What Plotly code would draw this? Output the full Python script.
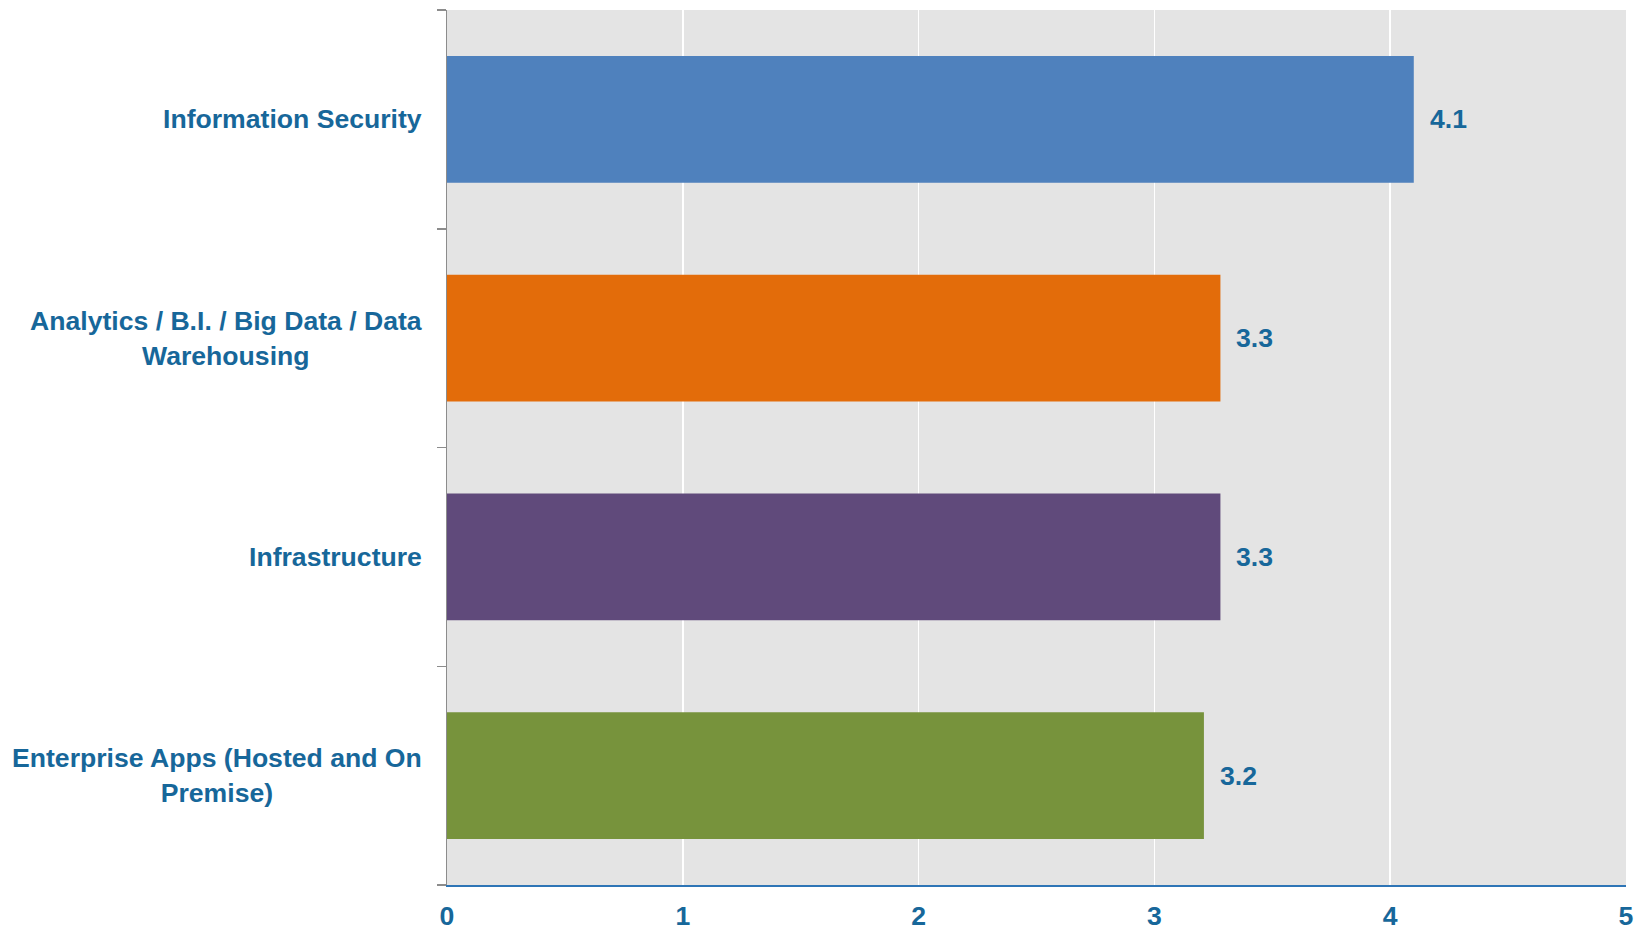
import plotly.graph_objects as go

categories = [
    "Information Security",
    "Analytics / B.I. / Big Data / Data<br>Warehousing",
    "Infrastructure",
    "Enterprise Apps (Hosted and On<br>Premise)",
]
values = [4.1, 3.28, 3.28, 3.21]
value_labels = ["4.1", "3.3", "3.3", "3.2"]
bar_colors = ["#4F81BD", "#E36C0A", "#604A7B", "#77933C"]
x_ticks = [0, 1, 2, 3, 4, 5]

text_color = "#17679A"
font_family = "Liberation Sans, Arial, sans-serif"
fsize = 26.6

fig = go.Figure()
fig.add_trace(go.Bar(
    x=values,
    y=list(range(len(categories))),
    orientation="h",
    marker=dict(color=bar_colors, line=dict(width=0)),
    width=0.58,
    hoverinfo="skip",
))

annotations = []
for i, (cat, v, lab) in enumerate(zip(categories, values, value_labels)):
    annotations.append(dict(
        x=0, xref="paper", y=i, yref="y",
        text="<b>" + cat + "</b>", showarrow=False,
        xanchor="right", yanchor="middle", align="center",
        xshift=-23,
        font=dict(family=font_family, size=fsize, color=text_color),
    ))
    annotations.append(dict(
        x=v, xref="x", y=i, yref="y",
        text="<b>" + lab + "</b>", showarrow=False,
        xanchor="left", yanchor="middle",
        xshift=14,
        font=dict(family=font_family, size=fsize, color=text_color),
    ))

fig.update_layout(
    width=1643, height=932,
    margin=dict(l=447, r=17, t=10, b=47, autoexpand=False),
    paper_bgcolor="white",
    plot_bgcolor="#E4E4E4",
    showlegend=False,
    annotations=annotations,
    font=dict(family=font_family, color=text_color),
)
fig.update_xaxes(
    range=[0, 5],
    tickmode="array", tickvals=x_ticks,
    ticktext=["<b>%d</b>" % t for t in x_ticks],
    tickfont=dict(family=font_family, size=fsize, color=text_color),
    showgrid=True, gridcolor="white", gridwidth=1.5,
    showline=True, linecolor="#2E75B6", linewidth=2,
    zeroline=False,
    ticks="", ticklabelstandoff=6,
    automargin=False,
    fixedrange=True,
)
fig.update_yaxes(
    range=[3.5, -0.5],
    tickmode="array", tickvals=[-0.5, 0.5, 1.5, 2.5, 3.5],
    showticklabels=False,
    ticks="outside", ticklen=9, tickcolor="#8C8C8C", tickwidth=1.5,
    showgrid=False, zeroline=False,
    showline=True, linecolor="#8C8C8C", linewidth=1.5,
    automargin=False,
    fixedrange=True,
)

fig.write_html(
    "out.html",
    config={"displayModeBar": False, "staticPlot": True},
    post_script="document.body.style.margin='0';document.body.style.overflow='hidden';",
)
